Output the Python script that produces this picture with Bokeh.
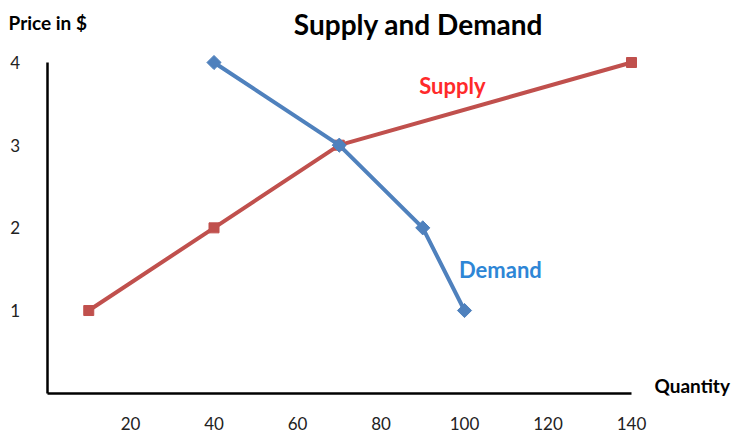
import math
from bokeh.plotting import figure
from bokeh.models import Range1d, FixedTicker, Label
from bokeh.embed import file_html
from bokeh.resources import INLINE

supply_qty = [10, 40, 70, 140]
supply_price = [1, 2, 3, 4]
demand_qty = [40, 70, 90, 100]
demand_price = [4, 3, 2, 1]
x_ticks = [20, 40, 60, 80, 100, 120, 140]
y_ticks = [1, 2, 3, 4]

FONT = "Lato"
RED = "#C0504D"
BLUE = "#4F81BD"

p = figure(width=731, height=433, output_backend="svg", toolbar_location=None,
           x_range=Range1d(-11.14, 163.95), y_range=Range1d(-0.4875, 4.75),
           min_border=0, min_border_left=0, min_border_right=0,
           min_border_top=0, min_border_bottom=0)
p.outline_line_color = None
p.grid.visible = False

for ax, ticks, bnds in ((p.xaxis[0], x_ticks, (0, 140)), (p.yaxis[0], y_ticks, (0, 4))):
    ax.ticker = FixedTicker(ticks=ticks)
    ax.bounds = bnds
    ax.fixed_location = 0
    ax.axis_line_color = "black"
    ax.axis_line_width = 2.5
    ax.major_tick_line_color = None
    ax.minor_tick_line_color = None
    ax.major_label_text_font = FONT
    ax.major_label_text_font_size = "17px"
    ax.major_label_text_color = "#222222"
p.xaxis.major_label_standoff = 18
p.yaxis.major_label_standoff = 21

p.line(supply_qty, supply_price, line_color=RED, line_width=4)
p.scatter(supply_qty, supply_price, marker="square", size=10, color=RED)
p.line(demand_qty, demand_price, line_color=BLUE, line_width=4)
p.scatter(demand_qty, demand_price, marker="square", size=10, angle=math.pi / 4, color=BLUE)

def lab(x, y, text, size, color="black", align="center"):
    p.add_layout(Label(x=x, y=y, text=text, text_font=FONT, text_font_style="bold",
                       text_font_size=size, text_align=align, text_baseline="middle",
                       text_color=color))

lab(88.98, 4.46, "Supply and Demand", "28px")
lab(-9.22, 4.484, "Price in $", "19px", align="left")
lab(145.5, 0.093, "Quantity", "19px", align="left")
lab(97.1, 3.72, "Supply", "22px", color="#FF2A2A")
lab(108.6, 1.5, "Demand", "22px", color="#2E86D6")

open("out.html", "w").write(file_html(p, INLINE))
